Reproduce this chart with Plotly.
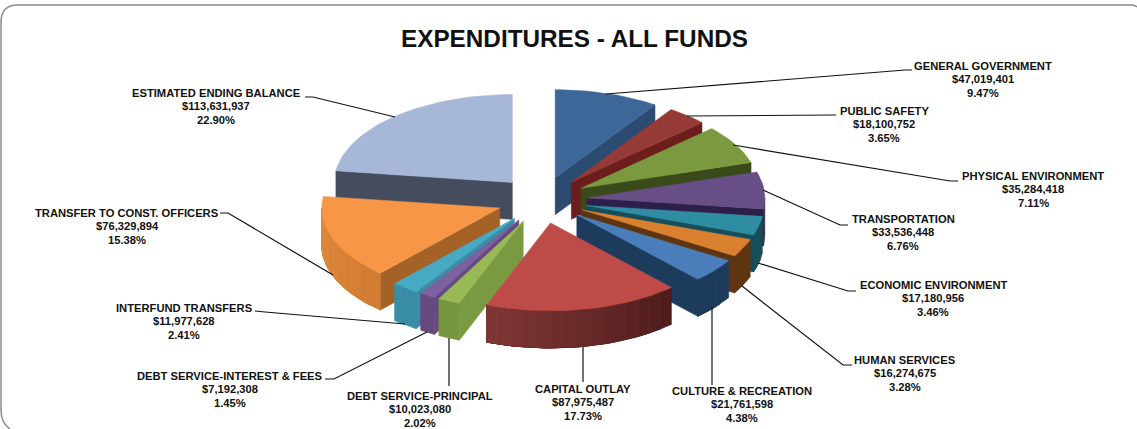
import math
import plotly.graph_objects as go

# ---------- data ----------
categories = ["GENERAL GOVERNMENT", "PUBLIC SAFETY", "PHYSICAL ENVIRONMENT", "TRANSPORTATION",
              "ECONOMIC ENVIRONMENT", "HUMAN SERVICES", "CULTURE & RECREATION", "CAPITAL OUTLAY",
              "DEBT SERVICE-PRINCIPAL", "DEBT SERVICE-INTEREST & FEES", "INTERFUND TRANSFERS",
              "TRANSFER TO CONST. OFFICERS", "ESTIMATED ENDING BALANCE"]
amounts = [47019401, 18100752, 35284418, 33536448, 17180956, 16274675, 21761598,
           87975487, 10023080, 7192308, 11977628, 76329894, 113631937]
percent_labels = ["9.47%", "3.65%", "7.11%", "6.76%", "3.46%", "3.28%", "4.38%",
                  "17.73%", "2.02%", "1.45%", "2.41%", "15.38%", "22.90%"]

# ---------- styles ----------
top_colors = ["#3C6798", "#963A38", "#7B9A3F", "#674E86", "#2F8DA3", "#D9812F", "#4A7EBB",
              "#BE4B48", "#98B954", "#7D60A0", "#46AAC4", "#F79646", "#A7B7D8"]
face_colors = ["#2B4B70", "#6B1E1C", "#3A4A1A", "#2E1F4A", "#164E5A", "#5E3510", "#1D3B5C",
               "#6B2A28", "#7A9A42", "#67497F", "#3A8DA6", "#A56227", "#454C5D"]
rim_right = ["#2B4B70", "#6B1E1C", "#3A4A1A", "#2E1F4A", "#164E5A", "#5E3510", "#1D3B5C",
             "#4E1C1B", "#76963F", "#67497F", "#3A8DA6", "#D07B31", "#454C5D"]
rim_left = ["#2B4B70", "#6B1E1C", "#3A4A1A", "#2E1F4A", "#164E5A", "#5E3510", "#1D3B5C",
            "#803735", "#76963F", "#67497F", "#3A8DA6", "#E08B3F", "#454C5D"]

# ---------- layout of the pie (pixel-scaled axes) ----------
CX, CY, RX, RY, PULL_X, PULL_Y, DEPTH = 542, 200, 178, 88, 45, 23.3, 37

# label anchors: centre x, y of first line, line step
label_pos = [(983, 66), (884, 111), (1033, 176), (903, 219), (933, 285), (905, 360), (742, 391),
             (583, 389), (420, 396), (230, 376), (184, 308), (127, 213), (216, 93)]
line_step = 13.3
leaders = [
    [(912, 70), (905, 70), (606, 94)],
    [(836, 115), (687, 116)],
    [(958, 181), (950, 181), (733, 145)],
    [(848, 225), (840, 225), (763, 190)],
    [(856, 291), (848, 291), (758, 263)],
    [(852, 365), (843, 365), (742, 286)],
    [(712, 385), (712, 307)],
    [(583, 382), (583, 347)],
    [(449, 386), (449, 338)],
    [(325, 379), (334, 379), (427, 332)],
    [(255, 311), (265, 312), (405, 324)],
    [(220, 213), (228, 213), (333, 275)],
    [(305, 97), (313, 97), (395, 117)],
]


def hex_mix(c1, c2, t):
    a = [int(c1[i:i + 2], 16) for i in (1, 3, 5)]
    b = [int(c2[i:i + 2], 16) for i in (1, 3, 5)]
    return "#%02X%02X%02X" % tuple(round(p + (q - p) * t) for p, q in zip(a, b))


fig = go.Figure()


def poly(xs, ys, color):
    fig.add_trace(go.Scatter(x=xs + xs[:1], y=ys + ys[:1], mode="lines", fill="toself",
                             fillcolor=color, line=dict(color=color, width=0.5),
                             hoverinfo="skip", showlegend=False))


total = sum(amounts)
slices = []
acc = 0
for i, v in enumerate(amounts):
    a0 = acc / total * 360
    acc += v
    a1 = acc / total * 360
    slices.append((i, a0, a1))


def rim_pt(ax, ay, deg):
    r = math.radians(deg)
    return ax + RX * math.sin(r), ay - RY * math.cos(r)


for i, a0, a1 in sorted(slices, key=lambda s: -math.cos(math.radians((s[1] + s[2]) / 2))):
    mid = math.radians((a0 + a1) / 2)
    ax = CX + PULL_X * math.sin(mid)
    ay = CY - PULL_Y * math.cos(mid)

    # radial faces
    if math.sin(math.radians(a1)) > 0:
        ex, ey = rim_pt(ax, ay, a1)
        poly([ax, ex, ex, ax], [ay, ey, ey + DEPTH, ay + DEPTH], face_colors[i])
    if math.sin(math.radians(a0)) < 0:
        ex, ey = rim_pt(ax, ay, a0)
        poly([ax, ex, ex, ax], [ay, ey, ey + DEPTH, ay + DEPTH], face_colors[i])

    # outer rim (front half only): colour bands painted from the right, each one
    # running to the end of the rim so no seams show between them
    lo, hi = max(a0, 90), min(a1, 270)
    if hi > lo:
        n = max(1, int((hi - lo) / 4))
        for k in range(n):
            d0 = lo + (hi - lo) * k / n
            steps = max(1, int((hi - d0) / 2))
            arc = [rim_pt(ax, ay, d0 + (hi - d0) * j / steps) for j in range(steps + 1)]
            xs = [p[0] for p in arc] + [p[0] for p in reversed(arc)]
            ys = [p[1] for p in arc] + [p[1] + DEPTH for p in reversed(arc)]
            poly(xs, ys, hex_mix(rim_right[i], rim_left[i], (k + 0.5) / n))

    # top surface
    n = max(2, int((a1 - a0) / 2))
    arc = [rim_pt(ax, ay, a0 + (a1 - a0) * k / n) for k in range(n + 1)]
    poly([ax] + [p[0] for p in arc], [ay] + [p[1] for p in arc], top_colors[i])

# leader lines
for pts in leaders:
    fig.add_trace(go.Scatter(x=[p[0] for p in pts], y=[p[1] for p in pts], mode="lines",
                             line=dict(color="#111111", width=1.2),
                             hoverinfo="skip", showlegend=False))

FONT = "Liberation Sans"
annotations = []
for name, amount, pct, (lx, ly) in zip(categories, amounts, percent_labels, label_pos):
    for k, line in enumerate([name, "${:,}".format(amount), pct]):
        annotations.append(dict(x=lx, y=ly + k * line_step, xref="x", yref="y", text="<b>%s</b>" % line,
                                showarrow=False, xanchor="center", yanchor="middle",
                                font=dict(family=FONT, size=11.2, color="#111111")))
annotations.append(dict(x=574, y=38, xref="x", yref="y", text="<b>EXPENDITURES - ALL FUNDS</b>",
                        showarrow=False, xanchor="center", yanchor="middle",
                        font=dict(family=FONT, size=24.3, color="#111111")))

frame = "M 10 429 Q 1 423 1 410 L 1 22 Q 1 5 18 5 L 1132 5 Q 1135 5 1137 7"

fig.update_layout(
    width=1137, height=429, margin=dict(l=0, r=0, t=0, b=0),
    paper_bgcolor="white", plot_bgcolor="white", showlegend=False,
    xaxis=dict(range=[0, 1137], visible=False, fixedrange=True),
    yaxis=dict(range=[429, 0], visible=False, fixedrange=True),
    annotations=annotations,
    shapes=[dict(type="path", path=frame, line=dict(color="#8C8C8C", width=1.5), layer="below")],
)
fig.write_html("out.html", config={"displayModeBar": False},
               post_script="document.body.style.margin='0';document.documentElement.style.overflow='hidden';")
